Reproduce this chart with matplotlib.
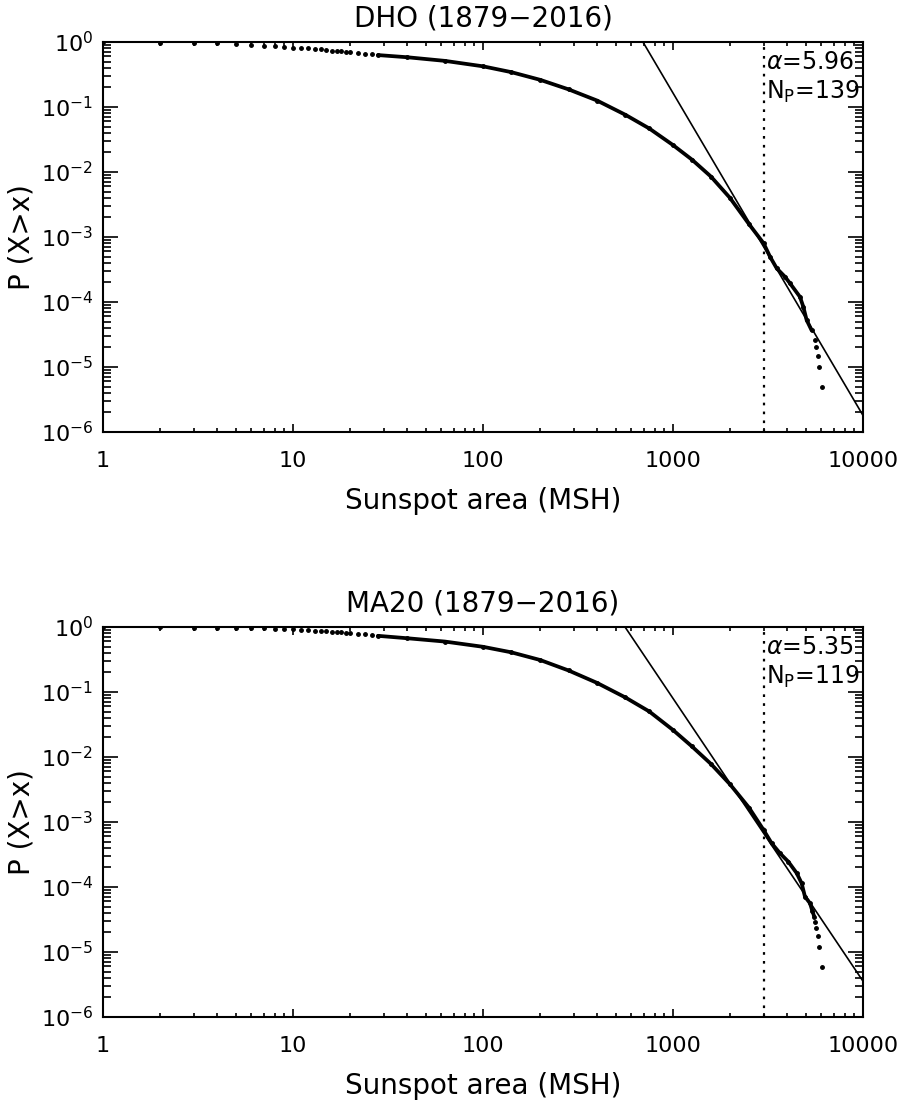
import numpy as np
import matplotlib
matplotlib.use("Agg")
import matplotlib.pyplot as plt
from matplotlib.ticker import FixedLocator, FuncFormatter, LogLocator, NullFormatter

# ---- data ----------------------------------------------------------------
# DHO (1879-2016): complementary cumulative distribution of sunspot areas
dho_area = [1, 2, 3, 4, 5, 6, 7, 8, 9, 10,
            11, 12, 13, 14, 15, 16, 17, 18, 19, 20,
            22, 24, 26, 28, 40, 63, 100, 141, 200, 282, 398, 562, 750,
            1000, 1259, 1585, 1995, 2512, 3000, 3240, 3515, 3884, 4130,
            4660, 4850, 5050, 5360, 5580, 5640, 5770, 5840, 6060]
dho_ccdf = [1.0, 0.975, 0.97, 0.955, 0.92, 0.91, 0.88, 0.86, 0.83, 0.82,
            0.81, 0.80, 0.78, 0.77, 0.76, 0.74, 0.73, 0.72, 0.70, 0.69,
            0.67, 0.66, 0.645, 0.63, 0.583, 0.513, 0.423, 0.344, 0.262,
            0.187, 0.126, 0.0759, 0.0468, 0.026, 0.0155, 0.0085, 0.0040,
            0.00158, 8.0e-4, 5.0e-4, 3.3e-4, 2.45e-4, 1.94e-4, 1.2e-4,
            8.5e-5, 5.3e-5, 3.7e-5, 2.6e-5, 2.0e-5, 1.5e-5, 1.0e-5, 5.0e-6]

# MA20 (1879-2016)
ma20_area = [1, 2, 3, 4, 5, 6, 7, 8, 9, 10,
             11, 12, 13, 14, 15, 16, 17, 18, 19, 20,
             22, 24, 26, 28, 40, 63, 100, 141, 200, 282, 398, 562, 750,
             1000, 1259, 1585, 1995, 2512, 3000, 3306, 3656, 4045, 4480,
             4755, 4950, 5265, 5410, 5540, 5580, 5670, 5770, 5840, 6060]
ma20_ccdf = [1.0, 0.99, 0.98, 0.975, 0.97, 0.96, 0.95, 0.94, 0.93, 0.92,
             0.90, 0.89, 0.88, 0.87, 0.86, 0.85, 0.84, 0.83, 0.82, 0.81,
             0.79, 0.77, 0.75, 0.73, 0.67, 0.596, 0.495, 0.407, 0.31,
             0.214, 0.138, 0.0822, 0.0501, 0.026, 0.0145, 0.0078, 0.0038,
             0.00166, 7.5e-4, 4.7e-4, 3.3e-4, 2.45e-4, 1.63e-4, 1.14e-4,
             7.1e-5, 5.6e-5, 4.3e-5, 3.5e-5, 2.9e-5, 2.35e-5, 1.77e-5,
             1.18e-5, 5.9e-6]

# power-law fits: P(X>x) = (x / x_unit)^-(alpha-1)
dho_alpha, dho_xunit, dho_np = 5.96, 695.0, 139
ma20_alpha, ma20_xunit, ma20_np = 5.35, 559.0, 119
x_min = 3000  # lower cut of the fit (dotted line)

x_ticks = [1, 10, 100, 1000, 10000]
x_ticklabels = ["1", "10", "100", "1000", "10000"]
y_ticks = [1e-6, 1e-5, 1e-4, 1e-3, 1e-2, 1e-1, 1e0]

plt.rcParams["font.family"] = ["DejaVu Sans"]
plt.rcParams["mathtext.fontset"] = "dejavusans"


def draw_panel(ax, area, ccdf, alpha, xunit, n_p, title):
    area = np.asarray(area, dtype=float)
    ccdf = np.asarray(ccdf, dtype=float)

    # dense part of the distribution looks like a thick line
    dense = (area >= 28) & (ccdf >= 3.5e-5)
    ax.plot(area[dense], ccdf[dense], color="black", lw=2.7,
            solid_capstyle="round", solid_joinstyle="round", zorder=3)
    ax.plot(area, ccdf, ls="none", marker="o", ms=2.5, color="black",
            zorder=3)

    # power-law fit line
    xf = np.array([100.0, 10000.0])
    ax.plot(xf, (xf / xunit) ** (-(alpha - 1)), color="black", lw=1.2,
            zorder=2)

    ax.axvline(x_min, color="black", lw=1.6, ls=(0, (1.2, 2.8)), zorder=1)

    ax.set_xscale("log")
    ax.set_yscale("log")
    ax.set_xlim(1, 10000)
    ax.set_ylim(1e-6, 1)

    ax.xaxis.set_major_locator(FixedLocator(x_ticks))
    ax.xaxis.set_major_formatter(FuncFormatter(
        lambda v, p: x_ticklabels[x_ticks.index(int(round(v)))]
        if int(round(v)) in x_ticks else ""))
    ax.xaxis.set_minor_locator(LogLocator(base=10, subs=np.arange(2, 10)))
    ax.xaxis.set_minor_formatter(NullFormatter())
    ax.yaxis.set_major_locator(FixedLocator(y_ticks))
    ax.yaxis.set_major_formatter(FuncFormatter(
        lambda v, p: r"$10^{%d}$" % int(round(np.log10(v)))))
    ax.yaxis.set_minor_locator(LogLocator(base=10, subs=np.arange(2, 10)))
    ax.yaxis.set_minor_formatter(NullFormatter())

    ax.tick_params(which="both", direction="in", top=True, right=True,
                   width=1.2, colors="black")
    ax.tick_params(axis="x", which="major", length=6, pad=14, labelsize=16)
    ax.tick_params(axis="x", which="minor", length=3)
    ax.tick_params(axis="y", which="major", length=11, pad=7, labelsize=16)
    ax.tick_params(axis="y", which="minor", length=5.5)
    for s in ax.spines.values():
        s.set_linewidth(1.5)

    ax.set_xlabel("Sunspot area (MSH)", fontsize=20, labelpad=11)
    ax.set_ylabel("P (X>x)", fontsize=20, labelpad=4)
    ax.set_title(title, fontsize=20, pad=11)

    ax.text(0.872, 0.948, r"$\alpha$=%.2f" % alpha, transform=ax.transAxes,
            fontsize=17, ha="left", va="center")
    ax.text(0.872, 0.872, r"$\mathrm{N}_{\mathrm{P}}$=%d" % n_p,
            transform=ax.transAxes, fontsize=17, ha="left", va="center")


fig = plt.figure(figsize=(8.98, 11.03), dpi=100)
ax1 = fig.add_axes([0.1147, 0.6083, 0.8463, 0.3536])
ax2 = fig.add_axes([0.1147, 0.0780, 0.8463, 0.3536])

draw_panel(ax1, dho_area, dho_ccdf, dho_alpha, dho_xunit, dho_np,
           "DHO (1879\u22122016)")
draw_panel(ax2, ma20_area, ma20_ccdf, ma20_alpha, ma20_xunit, ma20_np,
           "MA20 (1879\u22122016)")

fig.savefig("out.png", dpi=100)
plt.close(fig)
